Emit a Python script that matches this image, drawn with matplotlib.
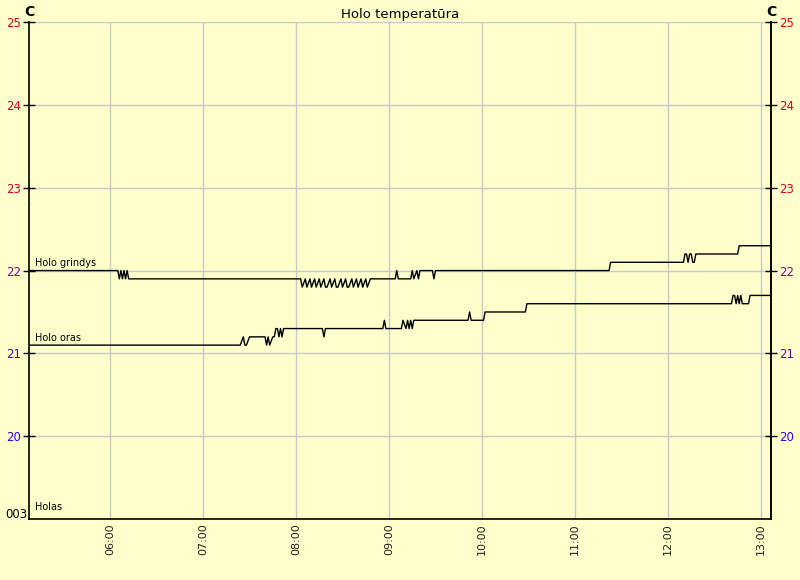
import matplotlib
matplotlib.use("Agg")
import matplotlib.pyplot as plt

# Duomenys: laikas (HH:MM) ir temperatūra
grindys_t = ["05:07", "06:05", "06:06", "06:07", "06:08", "06:09", "06:10", "06:11", "06:12",
             "08:03", "08:04", "08:06", "08:07", "08:09", "08:10", "08:12", "08:13", "08:15",
             "08:16", "08:18", "08:19", "08:20", "08:22", "08:23", "08:25", "08:26", "08:27",
             "08:29", "08:30", "08:32", "08:33", "08:34", "08:36", "08:37", "08:39", "08:40",
             "08:42", "08:43", "08:45", "08:46", "08:48", "08:49",
             "09:04", "09:05", "09:06", "09:14", "09:15", "09:16", "09:18", "09:19", "09:20",
             "09:28", "09:29", "09:30",
             "11:22", "11:23",
             "12:10", "12:11", "12:12", "12:13", "12:14", "12:15", "12:16", "12:17", "12:18",
             "12:45", "12:46", "13:07"]
grindys_v = [22.0, 22.0, 21.9, 22.0, 21.9, 22.0, 21.9, 22.0, 21.9,
             21.9, 21.8, 21.9, 21.8, 21.9, 21.8, 21.9, 21.8, 21.9,
             21.8, 21.9, 21.8, 21.8, 21.9, 21.8, 21.9, 21.8, 21.8,
             21.9, 21.8, 21.9, 21.8, 21.8, 21.9, 21.8, 21.9, 21.8,
             21.9, 21.8, 21.9, 21.8, 21.9, 21.9,
             21.9, 22.0, 21.9, 21.9, 22.0, 21.9, 22.0, 21.9, 22.0,
             22.0, 21.9, 22.0,
             22.0, 22.1,
             22.1, 22.2, 22.2, 22.1, 22.2, 22.2, 22.1, 22.1, 22.2,
             22.2, 22.3, 22.3]

oras_t = ["05:07", "07:24", "07:26", "07:27", "07:28", "07:30", "07:40", "07:41", "07:42",
          "07:43", "07:45", "07:46", "07:47", "07:48", "07:49", "07:50", "07:51", "07:52",
          "07:53", "08:17", "08:18", "08:19", "08:56", "08:57", "08:58",
          "09:08", "09:09", "09:11", "09:12", "09:13", "09:14", "09:15", "09:16", "09:18",
          "09:51", "09:52", "09:53", "10:01", "10:02", "10:28", "10:29",
          "12:41", "12:42", "12:43", "12:44", "12:45", "12:46", "12:47", "12:48", "12:52",
          "12:53", "13:07"]
oras_v = [21.1, 21.1, 21.2, 21.1, 21.1, 21.2, 21.2, 21.1, 21.2,
          21.1, 21.2, 21.2, 21.3, 21.3, 21.2, 21.3, 21.2, 21.3,
          21.3, 21.3, 21.2, 21.3, 21.3, 21.4, 21.3,
          21.3, 21.4, 21.3, 21.4, 21.3, 21.4, 21.3, 21.4, 21.4,
          21.4, 21.5, 21.4, 21.4, 21.5, 21.5, 21.6,
          21.6, 21.7, 21.7, 21.6, 21.7, 21.6, 21.7, 21.6, 21.6,
          21.7, 21.7]

serijos = ["Holo grindys", "Holo oras", "Holas"]
serijos_y = [22.0, 21.1, 19.0]
serijos_dy = [1.5, 1.5, 5]

x_ticks = [6, 7, 8, 9, 10, 11, 12, 13]
x_labels = ["06:00", "07:00", "08:00", "09:00", "10:00", "11:00", "12:00", "13:00"]
y_ticks = [20, 21, 22, 23, 24, 25]
y_spalvos = ["#3000e0", "#6000c0", "#900090", "#d00030", "#e00020", "#e00020"]


def valandos(laikai):
    res = []
    for s in laikai:
        h, m = s.split(":")
        res.append(int(h) + int(m) / 60.0)
    return res


fonas = "#ffffcc"
fig = plt.figure(figsize=(8, 5.8), dpi=100, facecolor=fonas)
ax = fig.add_axes([0.03625, 0.105, 0.9275, 0.857], facecolor=fonas)

ax.plot(valandos(grindys_t), grindys_v, color="black", lw=1)
ax.plot(valandos(oras_t), oras_v, color="black", lw=1)

x0, x1 = 5 + 7.7 / 60, 13 + 6.5 / 60
ax.set_xlim(x0, x1)
ax.set_ylim(19, 25)

# tinklelis
for t in x_ticks:
    ax.axvline(t, color="#c8c8c8", lw=1, zorder=0)
for y in y_ticks:
    ax.axhline(y, color="#c8c8c8", lw=1, zorder=0)

ax.spines["top"].set_visible(False)
for s in ["left", "right", "bottom"]:
    ax.spines[s].set_color("black")
    ax.spines[s].set_linewidth(1.2)

ax.set_xticks(x_ticks)
ax.set_xticklabels(x_labels, rotation=90, fontsize=8, color="#202020")
ax.tick_params(axis="x", length=0, pad=3)

ax.set_yticks(y_ticks)
ax.set_yticklabels([str(v) for v in y_ticks], fontsize=8.5)
ax.tick_params(axis="y", direction="inout", length=8, width=1, pad=2,
               left=True, right=False)
for lbl, col in zip(ax.get_yticklabels(), y_spalvos):
    lbl.set_color(col)
ax.annotate("003", xy=(x0, 19), xytext=(-1.5, 3), textcoords="offset points",
            ha="right", va="center", fontsize=8.5, annotation_clip=False)

ax2 = ax.twinx()
ax2.set_ylim(19, 25)
ax2.set_yticks(y_ticks)
ax2.set_yticklabels([str(v) for v in y_ticks], fontsize=8.5)
ax2.tick_params(axis="y", direction="inout", length=8, width=1, pad=2)
for lbl, col in zip(ax2.get_yticklabels(), y_spalvos):
    lbl.set_color(col)
for s in ["top", "left", "bottom"]:
    ax2.spines[s].set_visible(False)
ax2.spines["right"].set_linewidth(1.2)

# serijų pavadinimai
for name, y, dy in zip(serijos, serijos_y, serijos_dy):
    ax.annotate(name, xy=(x0, y), xytext=(4, dy), textcoords="offset points",
                fontsize=7, ha="left", va="bottom")

ax.set_title("Holo temperatūra", fontsize=9.5, pad=3)
for xf in [0, 1]:
    ax.annotate("C", xy=(xf, 1), xycoords="axes fraction", xytext=(0, 2),
                textcoords="offset points", ha="center", va="bottom",
                fontsize=10, fontweight="bold")

fig.savefig("out.png", dpi=100, facecolor=fonas)
